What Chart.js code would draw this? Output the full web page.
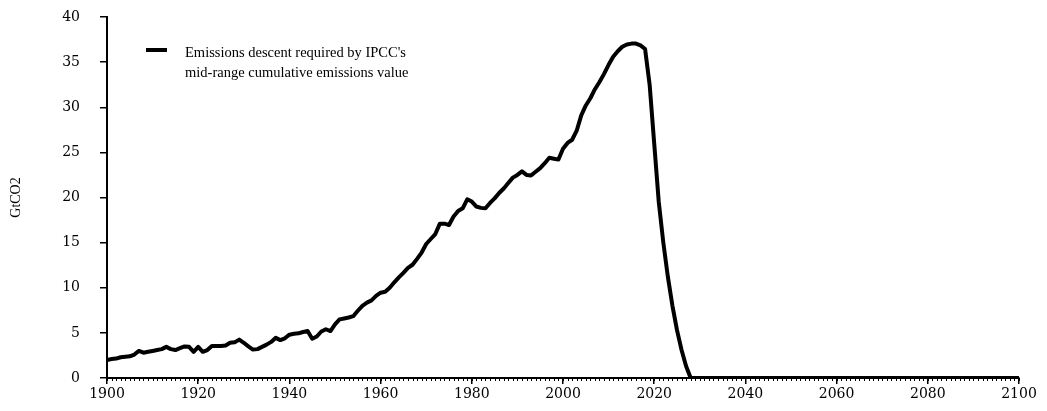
<!DOCTYPE html>
<html lang="en">
<head>
    <meta charset="UTF-8">
    <title>Emissions descent</title>
    <script src="https://cdn.jsdelivr.net/npm/chart.js"></script>
    <style>
        body {
            margin: 0;
            background: #fff;
        }
        #wrap {
            width: 1047px;
            height: 411px;
        }
    </style>
</head>
<body>
    <div id="wrap"><canvas id="emissionsChart"></canvas></div>

    <script>
        // Years on the x axis, one point per year
        const firstYear = 1900;
        const lastYear = 2100;
        const years = [];
        for (let y = firstYear; y <= lastYear; y++) years.push(y);

        // GtCO2 per year
        const emissions = [
            // 1900-1909
            2.0, 2.1, 2.15, 2.3, 2.35, 2.4, 2.6, 3.0, 2.8, 2.9,
            // 1910-1919
            3.0, 3.1, 3.2, 3.45, 3.2, 3.1, 3.3, 3.5, 3.45, 2.9,
            // 1920-1929
            3.45, 2.9, 3.1, 3.55, 3.55, 3.55, 3.6, 3.9, 3.95, 4.25,
            // 1930-1939
            3.9, 3.5, 3.15, 3.2, 3.45, 3.7, 4.0, 4.45, 4.2, 4.4,
            // 1940-1949
            4.8, 4.9, 4.95, 5.1, 5.2, 4.35, 4.6, 5.15, 5.4, 5.2,
            // 1950-1959
            5.95, 6.5, 6.6, 6.7, 6.85, 7.45, 8.0, 8.35, 8.6, 9.1,
            // 1960-1969
            9.45, 9.55, 10.0, 10.6, 11.15, 11.65, 12.2, 12.55, 13.2, 13.9,
            // 1970-1979
            14.85, 15.4, 15.95, 17.1, 17.1, 16.95, 17.9, 18.5, 18.8, 19.8,
            // 1980-1989
            19.55, 19.0, 18.85, 18.8, 19.4, 19.9, 20.5, 21.0, 21.6, 22.2,
            // 1990-1999
            22.5, 22.9, 22.5, 22.45, 22.85, 23.25, 23.8, 24.4, 24.3, 24.2,
            // 2000-2009
            25.4, 26.05, 26.4, 27.4, 29.1, 30.2, 31.0, 32.0, 32.8, 33.7,
            // 2010-2019
            34.7, 35.6, 36.2, 36.7, 36.95, 37.05, 37.05, 36.85, 36.45, 32.5,
            // 2020-2029
            26.0, 19.5, 15.0, 11.2, 8.0, 5.3, 3.1, 1.3, 0, 0,
            // 2030-2039
            0, 0, 0, 0, 0, 0, 0, 0, 0, 0,
            // 2040-2049
            0, 0, 0, 0, 0, 0, 0, 0, 0, 0,
            // 2050-2059
            0, 0, 0, 0, 0, 0, 0, 0, 0, 0,
            // 2060-2069
            0, 0, 0, 0, 0, 0, 0, 0, 0, 0,
            // 2070-2079
            0, 0, 0, 0, 0, 0, 0, 0, 0, 0,
            // 2080-2089
            0, 0, 0, 0, 0, 0, 0, 0, 0, 0,
            // 2090-2100
            0, 0, 0, 0, 0, 0, 0, 0, 0, 0, 0
        ];

        const legendLines = [
            "Emissions descent required by IPCC's",
            'mid-range cumulative emissions value'
        ];
        const yTitle = 'GtCO2';

        const tickFont = { family: 'DejaVu Serif', size: 14 };
        const textFont = 'Liberation Serif';

        // small yearly ticks under the x axis
        const minorTicks = {
            id: 'minorTicks',
            afterDraw(chart) {
                const xs = chart.scales.x;
                const ctx = chart.ctx;
                ctx.save();
                ctx.strokeStyle = '#000';
                ctx.lineWidth = 1;
                ctx.beginPath();
                for (const yr of years) {
                    const px = Math.round(xs.getPixelForValue(yr)) + 0.5;
                    ctx.moveTo(px, xs.top);
                    ctx.lineTo(px, xs.top + 3);
                }
                ctx.stroke();
                ctx.restore();
            }
        };

        // legend sitting inside the plot, two lines of text
        const insideLegend = {
            id: 'insideLegend',
            afterDraw(chart) {
                const { ctx, chartArea } = chart;
                const x0 = chartArea.left + 39;
                const y0 = chartArea.top + 33;
                ctx.save();
                ctx.strokeStyle = '#000';
                ctx.lineWidth = 4;
                ctx.beginPath();
                ctx.moveTo(x0, y0);
                ctx.lineTo(x0 + 21, y0);
                ctx.stroke();
                ctx.fillStyle = '#000';
                ctx.font = '14.5px "' + textFont + '"';
                ctx.textBaseline = 'alphabetic';
                ctx.fillText(legendLines[0], x0 + 39, y0 + 6.5);
                ctx.fillText(legendLines[1], x0 + 39, y0 + 26.5);
                ctx.restore();
            }
        };

        const ctx = document.getElementById('emissionsChart').getContext('2d');
        new Chart(ctx, {
            type: 'line',
            data: {
                labels: years,
                datasets: [{
                    label: legendLines.join(' '),
                    data: emissions,
                    borderColor: '#000',
                    borderWidth: 4,
                    pointRadius: 0,
                    tension: 0,
                    borderJoinStyle: 'round',
                    fill: false
                }]
            },
            options: {
                responsive: true,
                maintainAspectRatio: false,
                animation: false,
                layout: { padding: { top: 17, right: 28, left: 0, bottom: 0 } },
                plugins: {
                    legend: { display: false },
                    tooltip: { enabled: false }
                },
                scales: {
                    x: {
                        type: 'linear',
                        min: firstYear,
                        max: lastYear,
                        ticks: {
                            stepSize: 20,
                            color: '#000',
                            font: tickFont,
                            padding: 2,
                            maxRotation: 0,
                            callback: v => String(v)
                        },
                        grid: {
                            drawOnChartArea: false,
                            tickLength: 6,
                            color: '#000',
                            lineWidth: 1.5
                        },
                        border: { color: '#000', width: 2 },
                        afterFit: s => { s.height = 33; }
                    },
                    y: {
                        min: 0,
                        max: 40,
                        ticks: {
                            stepSize: 5,
                            color: '#000',
                            font: tickFont,
                            padding: 20
                        },
                        grid: {
                            drawOnChartArea: false,
                            tickLength: 7,
                            color: '#000',
                            lineWidth: 1.5
                        },
                        border: { color: '#000', width: 2 },
                        title: {
                            display: true,
                            text: yTitle,
                            color: '#000',
                            font: { family: textFont, size: 14 },
                            padding: { top: 8, bottom: 0 }
                        },
                        afterFit: s => {
                            s.width = 107;
                            s.paddingTop = 0;
                            s.paddingBottom = 0;
                        }
                    }
                }
            },
            plugins: [minorTicks, insideLegend]
        });
    </script>
</body>
</html>
